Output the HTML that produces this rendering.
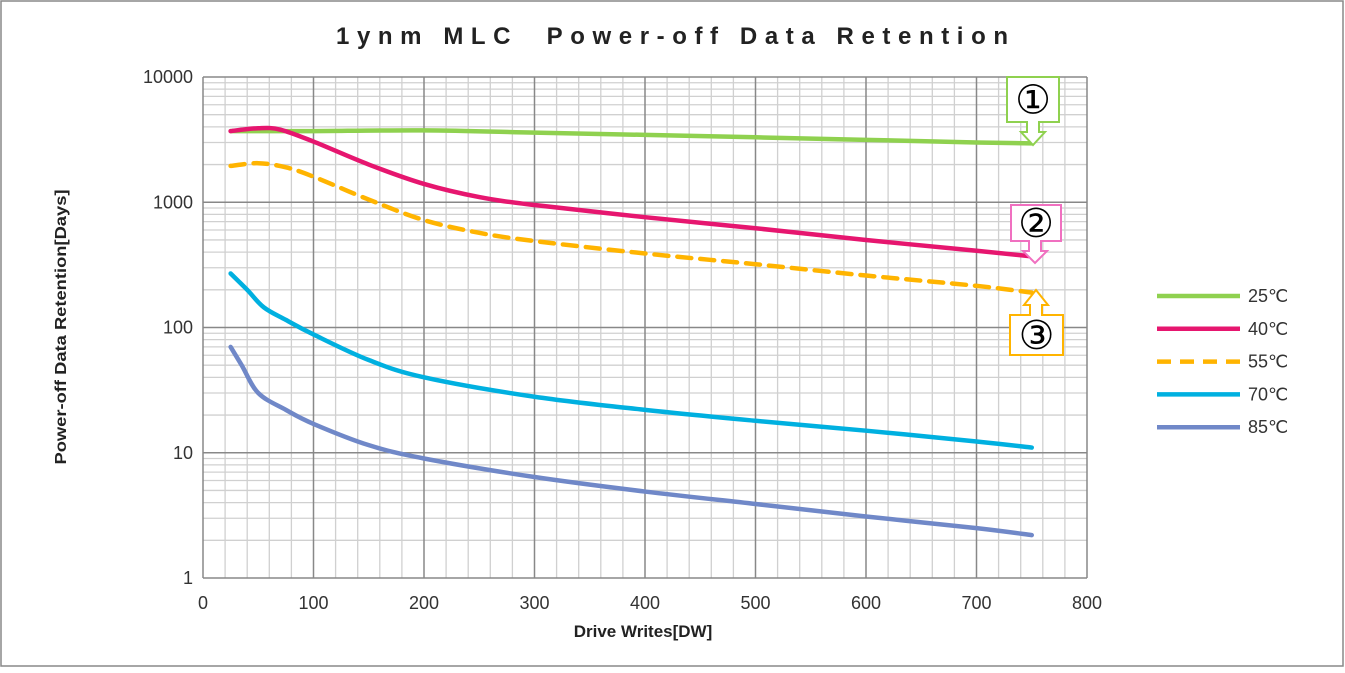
<!DOCTYPE html>
<html><head><meta charset="utf-8"><style>
body{margin:0;background:#fff;font-family:"Liberation Sans",sans-serif}
</style></head><body>
<svg id="c" width="1345" height="668" xmlns="http://www.w3.org/2000/svg">
<rect x="1" y="1" width="1342" height="665" fill="#fff" stroke="#888" stroke-width="1.5"/>
<text x="672" y="44" text-anchor="middle" font-size="24" font-weight="bold" fill="#222" textLength="672" lengthAdjust="spacing" style="white-space:pre">1ynm MLC  Power-off Data Retention</text>
<g id="grid"></g>
<g id="ticks"></g>
<g id="series"></g>
<text x="643" y="637" text-anchor="middle" font-size="17" font-weight="bold" fill="#222">Drive Writes[DW]</text>
<text transform="translate(66,327) rotate(-90)" text-anchor="middle" font-size="16" font-weight="bold" fill="#222" textLength="275" lengthAdjust="spacingAndGlyphs">Power-off Data Retention[Days]</text>
<g id="callouts"></g>
<g id="legend"></g>
</svg>
<script>
const xTicks=[0,100,200,300,400,500,600,700,800];
const yTicks=[1,10,100,1000,10000];
const yTickLabels=["1","10","100","1000","10000"];
const seriesNames=["25℃","40℃","55℃","70℃","85℃"];
const x25=[25,50,100,200,300,400,500,600,700,750];
const v25=[3700,3700,3700,3750,3600,3450,3300,3150,3000,2950];
const x40=[25,50,70,100,150,200,250,300,400,500,600,700,750];
const v40=[3700,3900,3800,3050,2000,1400,1100,950,760,620,500,410,370];
const x55=[25,50,75,100,150,200,250,300,400,500,600,700,750];
const v55=[1950,2050,1900,1600,1050,720,570,490,390,320,260,215,190];
const x70=[25,40,55,75,100,150,200,300,400,500,600,700,750];
const v70=[270,200,145,115,88,55,40,28,22,18,15,12.3,11];
const x85=[25,35,50,75,100,150,200,300,400,500,600,700,750];
const v85=[70,50,30,22,17,11.5,9,6.4,4.9,3.9,3.1,2.5,2.2];
const NS="http://www.w3.org/2000/svg";
const X0=203,X1=1087,Y0=578,Y1=77;
const sx=v=>X0+(v-0)/(800)*(X1-X0);
const sy=v=>Y0-Math.log10(v)/4*(Y0-Y1);
function mk(t,a,p){const e=document.createElementNS(NS,t);for(const k in a)e.setAttribute(k,a[k]);p.appendChild(e);return e;}
const g=document.getElementById('grid');
for(let d=0;d<4;d++)for(let m=2;m<=9;m++){const y=sy(m*Math.pow(10,d));const l=mk('line',{x1:X0,x2:X1,y1:y,y2:y,stroke:'#d0d0d0','stroke-width':1.3},g);

}
for(let v=20;v<800;v+=20){if(v%100===0)continue;const x=sx(v);const l=mk('line',{x1:x,x2:x,y1:Y1,y2:Y0,stroke:'#d0d0d0','stroke-width':1.3},g);

}
yTicks.forEach(v=>{const y=sy(v);const l=mk('line',{x1:X0,x2:X1,y1:y,y2:y,stroke:'#888','stroke-width':1.5},g);

});
xTicks.forEach(v=>{const x=sx(v);const l=mk('line',{x1:x,x2:x,y1:Y1,y2:Y0,stroke:'#888','stroke-width':1.5},g);

});
const tk=document.getElementById('ticks');
xTicks.forEach(v=>{const t=mk('text',{x:sx(v),y:609,'text-anchor':'middle','font-size':18,fill:'#333'},tk);t.textContent=v;

});
yTicks.forEach((v,i)=>{const t=mk('text',{x:193,y:sy(v)+6,'text-anchor':'end','font-size':18,fill:'#333'},tk);t.textContent=yTickLabels[i];

});
function pathOf(xs,vs){const p=xs.map((x,i)=>[sx(x),sy(vs[i])]);let d='M'+p[0][0]+','+p[0][1];
for(let i=0;i<p.length-1;i++){const a=p[i-1]||p[i],b=p[i],c=p[i+1],e=p[i+2]||c;
d+=' C'+(b[0]+(c[0]-a[0])/6)+','+(b[1]+(c[1]-a[1])/6)+' '+(c[0]-(e[0]-b[0])/6)+','+(c[1]-(e[1]-b[1])/6)+' '+c[0]+','+c[1];}return d;}
const colors=['#8fd14f','#e6166f','#ffb400','#00b0e0','#7088c8'];
const dashes=['','','14,9','',''];
const names=['series-25c','series-40c','series-55c','series-70c','series-85c'];
const sg=document.getElementById('series');
[[x25,v25],[x40,v40],[x55,v55],[x70,v70],[x85,v85]].forEach((s,i)=>{const p=mk('path',{d:pathOf(s[0],s[1]),fill:'none',stroke:colors[i],'stroke-width':4.5,'stroke-dasharray':dashes[i],'stroke-linecap':'round'},sg);

});
const lg=document.getElementById('legend');
seriesNames.forEach((n,i)=>{const y=296+i*32.8;mk('line',{x1:1157,x2:1240,y1:y,y2:y,stroke:colors[i],'stroke-width':4.5,'stroke-dasharray':dashes[i]},lg);
const t=mk('text',{x:1248,y:y+6,'font-size':18,fill:'#333'},lg);t.textContent=n;

});
const cg=document.getElementById('callouts');
function callout(label,col,bx,by,bw,bh,tipx,tipy,down){
 let d;const ax=tipx;
 if(down){const b=by+bh;d=`M${bx},${by} H${bx+bw} V${b} H${ax+6} V${b+10} H${ax+12} L${ax},${tipy} L${ax-12},${b+10} H${ax-6} V${b} H${bx} Z`;}
 else{d=`M${bx},${by} H${ax-6} V${by-10} H${ax-12} L${ax},${tipy} L${ax+12},${by-10} H${ax+6} V${by} H${bx+bw} V${by+bh} H${bx} Z`;}
 const p=mk('path',{d:d,fill:'#fff',stroke:col,'stroke-width':2},cg);
 
 
 const t=mk('text',{x:bx+bw/2,y:by+bh/2+14,'text-anchor':'middle','font-size':40,fill:'#000'},cg);t.textContent=label;
 
 }
callout('①','#8fd14f',1007,77,52,45,1033,145,true);
callout('②','#f070c0',1011,205,50,36,1035,263,true);
callout('③','#ffb400',1010,315,53,40,1036,290,false);
</script>
</body></html>
